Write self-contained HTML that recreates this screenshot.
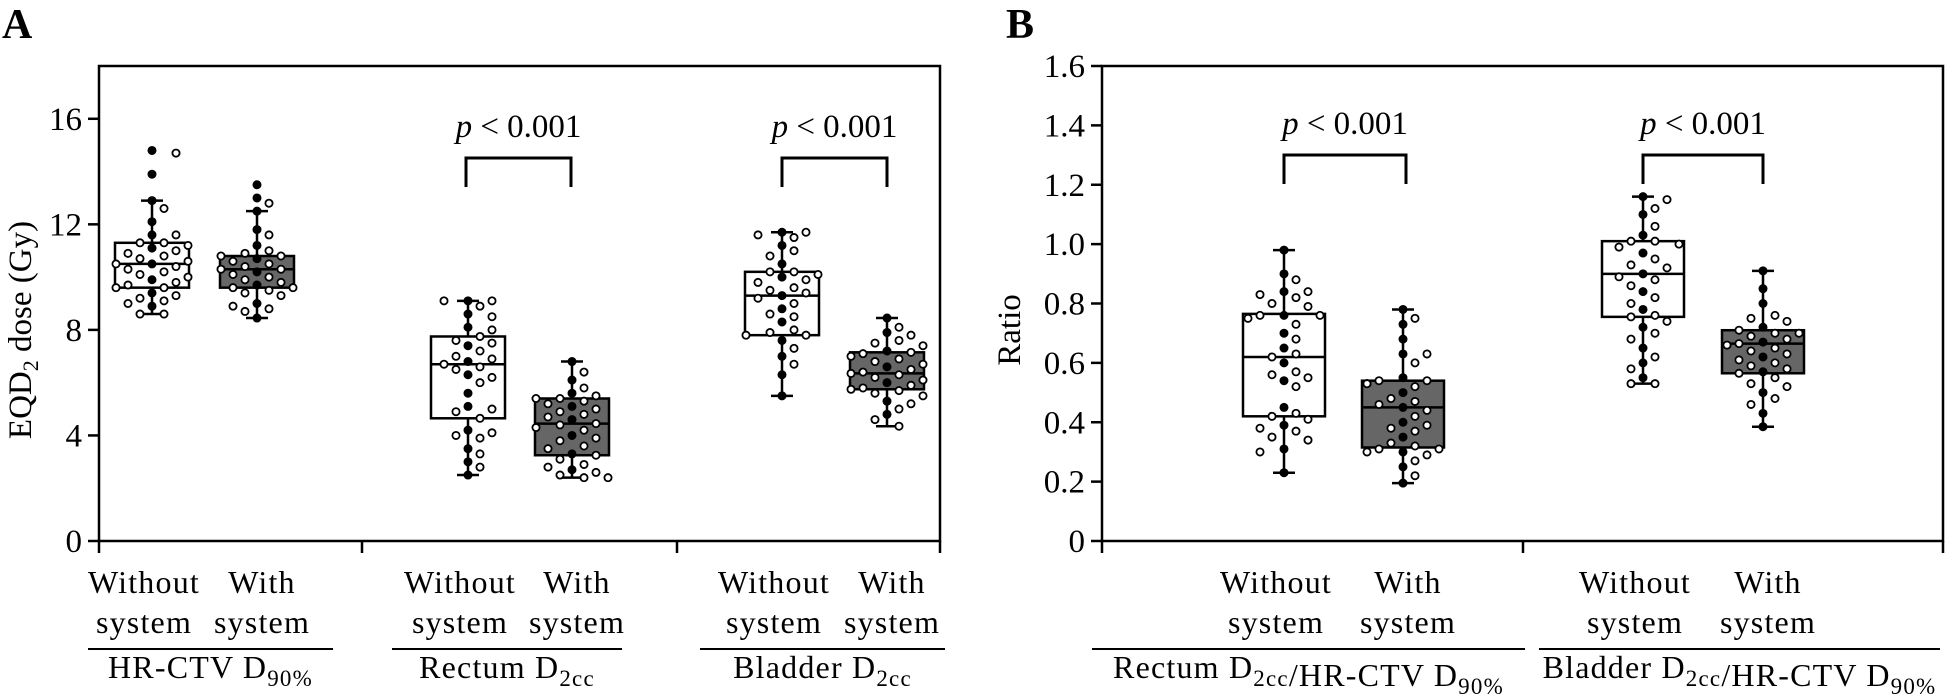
<!DOCTYPE html>
<html><head><meta charset="utf-8"><style>
html,body{margin:0;padding:0;background:#fff;}
svg{display:block;font-family:"Liberation Serif",serif;}
.t{font-size:32px;letter-spacing:1.2px;}
.tk{font-size:33px;}
</style></head><body>
<svg id="chart" width="1951" height="695" viewBox="0 0 1951 695">
<text x="2" y="38" font-size="42" font-weight="bold">A</text>
<text x="1006" y="38" font-size="42" font-weight="bold">B</text>
<g id="pa"></g>
<g id="pb"></g>
</svg>
<script>
// ---- Panel A data (Gy) ----
const aTicks = [0, 4, 8, 12, 16];
const aMax = 18;
const aGroups = ["HR-CTV D90%", "Rectum D2cc", "Bladder D2cc"];
const aMin = [8.6, 8.45, 2.5, 2.4, 5.5, 4.35];
const aQ1 = [9.6, 9.6, 4.65, 3.25, 7.8, 5.75];
const aMed = [10.5, 10.3, 6.7, 4.45, 9.3, 6.35];
const aQ3 = [11.3, 10.8, 7.75, 5.4, 10.2, 7.15];
const aWmax = [12.9, 12.5, 9.1, 6.8, 11.7, 8.45];
const aPts0 = [14.8,14.7,13.9,12.9,12.6,12.1,11.6,11.6,11.3,11.3,11.2,11.1,11.0,10.9,10.8,10.7,10.6,10.5,10.5,10.4,10.3,10.2,10.1,10.0,9.9,9.8,9.7,9.6,9.6,9.4,9.3,9.2,9.1,9.0,8.9,8.6,8.6];
const aPts1 = [13.5,13.0,12.8,12.5,11.8,11.6,11.2,11.0,10.9,10.8,10.8,10.7,10.6,10.5,10.4,10.3,10.3,10.2,10.1,10.0,9.9,9.8,9.7,9.6,9.6,9.5,9.4,9.3,9.0,8.9,8.8,8.7,8.45];
const aPts2 = [9.1,9.1,9.1,8.9,8.6,8.5,8.1,8.0,7.75,7.6,7.5,7.4,7.2,7.0,6.9,6.8,6.7,6.6,6.5,6.3,6.2,6.0,5.6,5.1,5.0,4.9,4.65,4.2,4.1,4.0,3.9,3.5,3.3,3.0,2.8,2.5];
const aPts3 = [6.8,6.4,6.1,5.8,5.6,5.5,5.4,5.4,5.3,5.2,5.1,5.0,4.9,4.8,4.7,4.6,4.45,4.4,4.3,4.2,4.0,3.9,3.8,3.6,3.5,3.3,3.25,3.1,2.9,2.8,2.7,2.6,2.5,2.4,2.4];
const aPts4 = [11.7,11.7,11.6,11.5,11.2,11.0,10.8,10.5,10.2,10.2,10.1,10.0,9.9,9.8,9.6,9.5,9.4,9.3,9.2,9.0,8.8,8.6,8.5,8.3,8.0,7.9,7.8,7.8,7.6,7.3,7.0,6.7,6.3,5.5];
const aPts5 = [8.45,8.1,7.9,7.8,7.6,7.5,7.4,7.2,7.15,7.1,7.0,6.9,6.8,6.7,6.6,6.5,6.4,6.35,6.3,6.2,6.1,6.0,5.9,5.8,5.75,5.7,5.6,5.5,5.3,5.2,5.0,4.8,4.6,4.35];
// ---- Panel B data (ratio) ----
const bTicks = [0,0.2,0.4,0.6,0.8,1.0,1.2,1.4,1.6];
const bMax = 1.6;
const bMin = [0.23, 0.195, 0.53, 0.385];
const bQ1 = [0.42, 0.315, 0.755, 0.565];
const bMed = [0.62, 0.45, 0.90, 0.665];
const bQ3 = [0.765, 0.54, 1.01, 0.71];
const bWmax = [0.98, 0.78, 1.16, 0.91];
const bPts0 = [0.98,0.90,0.88,0.84,0.84,0.83,0.82,0.80,0.79,0.76,0.76,0.76,0.75,0.73,0.70,0.68,0.65,0.63,0.62,0.60,0.57,0.56,0.55,0.54,0.52,0.45,0.43,0.42,0.41,0.39,0.38,0.37,0.35,0.34,0.31,0.30,0.23];
const bPts1 = [0.78,0.75,0.73,0.68,0.63,0.63,0.60,0.55,0.54,0.54,0.53,0.53,0.52,0.50,0.48,0.47,0.46,0.45,0.44,0.42,0.40,0.39,0.38,0.37,0.35,0.33,0.32,0.31,0.31,0.30,0.30,0.29,0.27,0.25,0.22,0.195];
const bPts2 = [1.16,1.15,1.12,1.10,1.06,1.03,1.01,1.01,1.00,0.99,0.97,0.95,0.93,0.92,0.90,0.89,0.88,0.86,0.84,0.82,0.80,0.78,0.76,0.755,0.74,0.72,0.70,0.68,0.65,0.62,0.60,0.58,0.55,0.53,0.53];
const bPts3 = [0.91,0.85,0.80,0.76,0.75,0.74,0.72,0.71,0.70,0.70,0.69,0.68,0.67,0.665,0.66,0.65,0.64,0.63,0.62,0.61,0.60,0.59,0.58,0.57,0.565,0.55,0.53,0.52,0.50,0.48,0.46,0.43,0.385];

const NS = "http://www.w3.org/2000/svg";
function mk(parent, tag, attrs, txt) {
  const e = document.createElementNS(NS, tag);
  for (const k in attrs) e.setAttribute(k, attrs[k]);
  if (txt !== undefined) e.textContent = txt;
  parent.appendChild(e);
  return e;
}
const Y0 = 541, YT = 66;

function drawBox(g, cx, hw, yS, mn, q1, md, q3, mx, pts, fill, name) {
  const bg = mk(g, "g", {});
  
  
  const wl = mk(bg, "line", {x1:cx, x2:cx, y1:yS(mn), y2:yS(mx), stroke:"#000", "stroke-width":2.5});
  
  
  [mn, mx].forEach(v => {
    const c = mk(bg, "line", {x1:cx-11, x2:cx+11, y1:yS(v), y2:yS(v), stroke:"#000", "stroke-width":2.5});
    
    
  });
  const r = mk(bg, "rect", {x:cx-hw, y:yS(q3), width:2*hw, height:yS(q1)-yS(q3), fill:fill, stroke:"#000", "stroke-width":2.5});
  
  
  const m = mk(bg, "line", {x1:cx-hw, x2:cx+hw, y1:yS(md), y2:yS(md), stroke:"#000", "stroke-width":2.5});
  
  
  const sorted = pts.slice().sort((a,b)=>b-a);
  const placed = [];
  const s = 12, d = 13;
  sorted.forEach(v => {
    const y = yS(v);
    let off = 0;
    for (let k = 0; k < 14; k++) {
      const cand = k===0 ? 0 : (k%2 ? 1 : -1) * Math.ceil(k/2) * s;
      if (Math.abs(cand) > hw + 2) continue;
      if (!placed.some(p => Math.hypot(p[0]-cand, p[1]-y) < d)) { off = cand; break; }
      off = cand;
    }
    placed.push([off, y]);
  });
  placed.forEach(p => {
    const c = mk(bg, "circle", {cx:cx+p[0], cy:p[1], r:3.6, fill: p[0]===0 ? "#000" : "#fff", stroke:"#000", "stroke-width":1.8});
    
    
  });
}

function drawBracket(g, x1, x2, yTop, name) {
  const p = mk(g, "path", {d:`M${x1},${yTop+29} V${yTop} H${x2} V${yTop+29}`, fill:"none", stroke:"#000", "stroke-width":3});
  
  
  const t = mk(g, "text", {x:(x1+x2)/2, y:yTop-21, "text-anchor":"middle", class:"tk"});
  
  
  t.innerHTML = '<tspan font-style="italic">p</tspan> &lt; 0.001';
}

function xLabels(g, cx, name) {
  [["Without","system"],["With","system"]].forEach((lab, i) => {
    const t1 = mk(g, "text", {x:cx[i] + (i?5:-8), y:593, "text-anchor":"middle", class:"t"}, lab[0]);
    
    
    const t2 = mk(g, "text", {x:cx[i] + (i?5:-8), y:633, "text-anchor":"middle", class:"t"}, lab[1]);
    
    
  });
}
function groupTitle(g, x1, x2, html, name, ls) {
  const l = mk(g, "line", {x1:x1, x2:x2, y1:649, y2:649, stroke:"#000", "stroke-width":2});
  
  
  const t = mk(g, "text", {x:(x1+x2)/2, y:678, "text-anchor":"middle", class:"t", "letter-spacing":ls});
  
  
  t.innerHTML = html;
}
const sub = s => `<tspan font-size="23" dy="8">${s}</tspan><tspan dy="-8"></tspan>`;

// ---------- Panel A ----------
(function(){
  const g = document.getElementById('pa');
  const L = 99, R = 940;
  const yS = v => Y0 - v/aMax*(Y0-YT);
  const frame = mk(g, "rect", {x:L, y:YT, width:R-L, height:Y0-YT, fill:"none", stroke:"#000", "stroke-width":2.5});
  
  
  aTicks.forEach(v => {
    const tl = mk(g, "line", {x1:L-11, x2:L, y1:yS(v), y2:yS(v), stroke:"#000", "stroke-width":2.5});
    
    
    const tt = mk(g, "text", {x:L-17, y:yS(v)+11, "text-anchor":"end", class:"tk"}, String(v));
    
    
  });
  [L, 362, 677, R].forEach(x => {
    const t = mk(g, "line", {x1:x, x2:x, y1:Y0, y2:Y0+12, stroke:"#000", "stroke-width":2.5});
    
    
  });
  const yt = mk(g, "text", {transform:"translate(31,330) rotate(-90)", "text-anchor":"middle", class:"tk"});
  
  
  yt.innerHTML = 'EQD<tspan font-size="22" dy="7">2</tspan><tspan dy="-7"> dose (Gy)</tspan>';
  const cx = [152, 257, 468, 572, 782, 887];
  const pts = [aPts0, aPts1, aPts2, aPts3, aPts4, aPts5];
  for (let i = 0; i < 6; i++)
    drawBox(g, cx[i], 37, yS, aMin[i], aQ1[i], aMed[i], aQ3[i], aWmax[i], pts[i], i%2 ? "#666" : "#fff", 'box-a-' + i);
  drawBracket(g, 466, 571, 158, 'rectum');
  drawBracket(g, 782, 887, 158, 'bladder');
  xLabels(g, [152,257], 'hrctv');
  xLabels(g, [468,572], 'rectum');
  xLabels(g, [782,887], 'bladder');
  groupTitle(g, 88, 333, 'HR-CTV D' + sub('90%'), 'hrctv', '0.5');
  groupTitle(g, 392, 622, 'Rectum D' + sub('2cc'), 'rectum', '0.5');
  groupTitle(g, 700, 945, 'Bladder D' + sub('2cc'), 'bladder', '0.5');
})();

// ---------- Panel B ----------
(function(){
  const g = document.getElementById('pb');
  const L = 1102, R = 1943;
  const yS = v => Y0 - v/bMax*(Y0-YT);
  const frame = mk(g, "rect", {x:L, y:YT, width:R-L, height:Y0-YT, fill:"none", stroke:"#000", "stroke-width":2.5});
  
  
  bTicks.forEach(v => {
    const tl = mk(g, "line", {x1:L-11, x2:L, y1:yS(v), y2:yS(v), stroke:"#000", "stroke-width":2.5});
    
    
    const tt = mk(g, "text", {x:L-17, y:yS(v)+11, "text-anchor":"end", class:"tk"}, v === 0 ? "0" : v.toFixed(1));
    
    
  });
  [L, 1523, R].forEach(x => {
    const t = mk(g, "line", {x1:x, x2:x, y1:Y0, y2:Y0+12, stroke:"#000", "stroke-width":2.5});
    
    
  });
  const yt = mk(g, "text", {transform:"translate(1020,330) rotate(-90)", "text-anchor":"middle", class:"tk"}, "Ratio");
  
  
  const cx = [1284, 1403, 1643, 1763];
  const pts = [bPts0, bPts1, bPts2, bPts3];
  for (let i = 0; i < 4; i++)
    drawBox(g, cx[i], 41, yS, bMin[i], bQ1[i], bMed[i], bQ3[i], bWmax[i], pts[i], i%2 ? "#666" : "#fff", 'box-b-' + i);
  drawBracket(g, 1284, 1406, 155, 'ratio-rectum');
  drawBracket(g, 1643, 1763, 155, 'ratio-bladder');
  xLabels(g, [1284,1403], 'ratio-rectum');
  xLabels(g, [1643,1763], 'ratio-bladder');
  groupTitle(g, 1092, 1525, 'Rectum D' + sub('2cc') + '/HR-CTV D' + sub('90%'), 'ratio-rectum', '0');
  groupTitle(g, 1539, 1940, 'Bladder D' + sub('2cc') + '/HR-CTV D' + sub('90%'), 'ratio-bladder', '-0.3');
})();
</script>
</body></html>
